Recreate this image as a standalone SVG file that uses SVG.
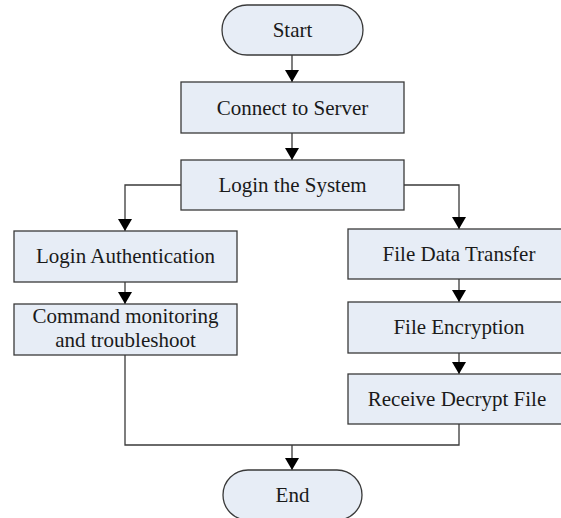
<svg xmlns="http://www.w3.org/2000/svg" width="561" height="518" viewBox="0 0 561 518">
<defs>
<marker id="arr" viewBox="0 0 12 14" refX="12" refY="7" markerWidth="12" markerHeight="14" markerUnits="userSpaceOnUse" orient="auto">
<path d="M0,0 L12,7 L0,14 z" fill="#000"/>
</marker>
<style>
.box{fill:#E7EDF6;stroke:#3a3a3a;stroke-width:1.3}
.t{font-family:"Liberation Serif","Times New Roman",serif;font-size:21px;fill:#1a1a1a;text-anchor:middle}
.c{fill:none;stroke:#3a3a3a;stroke-width:1.3}
</style>
</defs>
<rect width="561" height="518" fill="#fff"/>
<g id="connectors">
<path class="c" d="M292,55 V82" marker-end="url(#arr)"/>
<path class="c" d="M292,133 V160" marker-end="url(#arr)"/>
<path class="c" d="M181,185 H125 V231" marker-end="url(#arr)"/>
<path class="c" d="M125,282 V304" marker-end="url(#arr)"/>
<path class="c" d="M403,185 H459 V229" marker-end="url(#arr)"/>
<path class="c" d="M459,279 V302" marker-end="url(#arr)"/>
<path class="c" d="M459,353 V374" marker-end="url(#arr)"/>
<path class="c" d="M125,355 V445 H459 V424"/>
<path class="c" d="M292,445 V470" marker-end="url(#arr)"/>
</g>
<g id="start">
<rect class="box" x="222" y="5" width="141" height="50" rx="25" ry="25"/>
<text class="t" x="292.5" y="37">Start</text>
</g>
<g id="connect">
<rect class="box" x="181" y="82" width="223" height="51"/>
<text class="t" x="292.5" y="115">Connect to Server</text>
</g>
<g id="login">
<rect class="box" x="181" y="160" width="223" height="50"/>
<text class="t" x="292.5" y="192">Login the System</text>
</g>
<g id="auth">
<rect class="box" x="14" y="231" width="223" height="51"/>
<text class="t" x="125.5" y="263">Login Authentication</text>
</g>
<g id="command">
<rect class="box" x="14" y="304" width="223" height="51"/>
<text class="t" x="125.5" y="323">Command monitoring</text>
<text class="t" x="125.5" y="347">and troubleshoot</text>
</g>
<g id="transfer">
<rect class="box" x="348" y="229" width="220" height="50"/>
<text class="t" x="459" y="261">File Data Transfer</text>
</g>
<g id="encrypt">
<rect class="box" x="348" y="302" width="220" height="51"/>
<text class="t" x="459" y="334">File Encryption</text>
</g>
<g id="decrypt">
<rect class="box" x="348" y="374" width="220" height="50"/>
<text class="t" x="457" y="406">Receive Decrypt File</text>
</g>
<g id="end">
<rect class="box" x="223" y="470" width="139" height="50" rx="25" ry="25"/>
<text class="t" x="292.5" y="502">End</text>
</g>
</svg>
